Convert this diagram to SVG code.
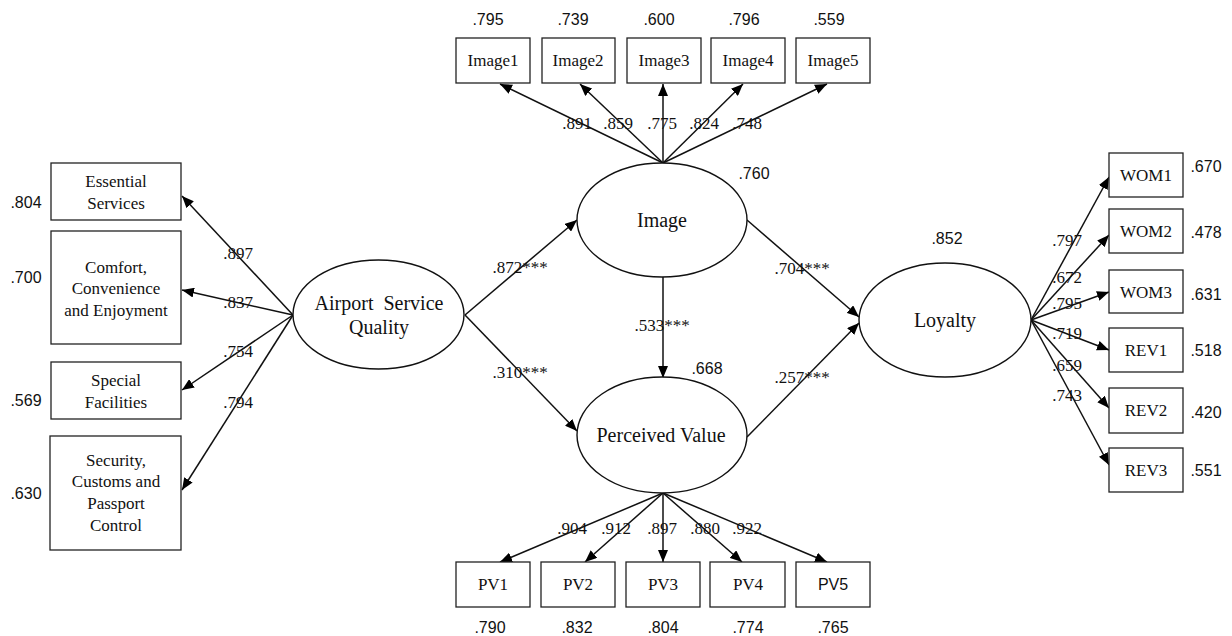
<svg xmlns="http://www.w3.org/2000/svg" width="1232" height="636" viewBox="0 0 1232 636">
<defs>
<marker id="ah" viewBox="0 0 12 10" refX="12" refY="5" markerWidth="12" markerHeight="10" markerUnits="userSpaceOnUse" orient="auto">
<path d="M0,0 L12,5 L0,10 Z" fill="#000"/>
</marker>
</defs>
<style>
.box{fill:#fff;stroke:#222;stroke-width:1.3}
.ell{fill:#fff;stroke:#111;stroke-width:1.4}
.t{font-family:"Liberation Serif","Times New Roman",serif;font-size:17px;fill:#111;text-anchor:middle;dominant-baseline:central}
.tl{font-family:"Liberation Serif","Times New Roman",serif;font-size:20px;fill:#111;text-anchor:middle;dominant-baseline:central}
.v{font-family:"Liberation Sans",Arial,sans-serif;font-size:16px;fill:#111;text-anchor:middle;dominant-baseline:central}
.w{font-family:"Liberation Serif","Times New Roman",serif;font-size:17px;fill:#111;text-anchor:middle;dominant-baseline:central}
.c line{stroke:#111;stroke-width:1.5;marker-end:url(#ah)}
</style>
<rect width="1232" height="636" fill="#fff"/>

<g class="c" id="connectors">
<line x1="293" y1="315" x2="182" y2="196"/>
<line x1="293" y1="315" x2="182" y2="290"/>
<line x1="293" y1="315" x2="182" y2="390"/>
<line x1="293" y1="315" x2="182" y2="490"/>
<line x1="663" y1="163" x2="500" y2="84"/>
<line x1="663" y1="163" x2="580" y2="84"/>
<line x1="663" y1="163" x2="663" y2="84"/>
<line x1="663" y1="163" x2="743" y2="84"/>
<line x1="663" y1="163" x2="827" y2="84"/>
<line x1="465" y1="315" x2="577" y2="220"/>
<line x1="465" y1="315" x2="577" y2="431"/>
<line x1="663" y1="277" x2="663" y2="378"/>
<line x1="747" y1="220" x2="859" y2="317"/>
<line x1="747" y1="437" x2="859" y2="323"/>
<line x1="663" y1="493" x2="500" y2="562"/>
<line x1="663" y1="493" x2="585" y2="562"/>
<line x1="663" y1="493" x2="663" y2="562"/>
<line x1="663" y1="493" x2="742" y2="562"/>
<line x1="663" y1="493" x2="827" y2="562"/>
<line x1="1031" y1="320" x2="1109" y2="177"/>
<line x1="1031" y1="320" x2="1109" y2="235"/>
<line x1="1031" y1="320" x2="1109" y2="292"/>
<line x1="1031" y1="320" x2="1109" y2="350"/>
<line x1="1031" y1="320" x2="1109" y2="408"/>
<line x1="1031" y1="320" x2="1109" y2="465"/>
</g>

<g id="asq">
<ellipse class="ell" cx="378.5" cy="314.5" rx="85.5" ry="54.5"/>
<text class="tl" x="379" y="303">Airport&#160; Service</text>
<text class="tl" x="379" y="327">Quality</text>
</g>
<g id="image">
<ellipse class="ell" cx="662" cy="220" rx="85" ry="57"/>
<text class="tl" x="662" y="220">Image</text>
<text class="v" x="754" y="173">.760</text>
</g>
<g id="pv">
<ellipse class="ell" cx="662" cy="435" rx="85" ry="58"/>
<text class="tl" x="661" y="435">Perceived Value</text>
<text class="v" x="707" y="368">.668</text>
</g>
<g id="loyalty">
<ellipse class="ell" cx="945" cy="320" rx="86" ry="57"/>
<text class="tl" x="945" y="320">Loyalty</text>
<text class="v" x="947" y="238">.852</text>
</g>

<g id="essential">
<rect class="box" x="51" y="163" width="130" height="57"/>
<text class="t" x="116" y="181">Essential</text>
<text class="t" x="116" y="203">Services</text>
<text class="v" x="26" y="202">.804</text>
</g>
<g id="comfort">
<rect class="box" x="51" y="231" width="130" height="113"/>
<text class="t" x="116" y="267">Comfort,</text>
<text class="t" x="116" y="288">Convenience</text>
<text class="t" x="116" y="310">and Enjoyment</text>
<text class="v" x="26" y="277">.700</text>
</g>
<g id="special">
<rect class="box" x="51" y="362" width="130" height="57"/>
<text class="t" x="116" y="380">Special</text>
<text class="t" x="116" y="402">Facilities</text>
<text class="v" x="26" y="400">.569</text>
</g>
<g id="security">
<rect class="box" x="50" y="436" width="131" height="114"/>
<text class="t" x="116" y="460">Security,</text>
<text class="t" x="116" y="481">Customs and</text>
<text class="t" x="116" y="503">Passport</text>
<text class="t" x="116" y="525">Control</text>
<text class="v" x="26" y="493">.630</text>
</g>

<g id="image1"><rect class="box" x="456" y="38" width="74" height="45"/><text class="t" x="493" y="60">Image1</text><text class="v" x="488" y="19">.795</text></g>
<g id="image2"><rect class="box" x="542" y="38" width="73" height="45"/><text class="t" x="578" y="60">Image2</text><text class="v" x="573" y="19">.739</text></g>
<g id="image3"><rect class="box" x="627" y="38" width="74" height="45"/><text class="t" x="664" y="60">Image3</text><text class="v" x="659" y="19">.600</text></g>
<g id="image4"><rect class="box" x="711" y="38" width="74" height="45"/><text class="t" x="748" y="60">Image4</text><text class="v" x="744" y="19">.796</text></g>
<g id="image5"><rect class="box" x="796" y="38" width="74" height="45"/><text class="t" x="833" y="60">Image5</text><text class="v" x="829" y="19">.559</text></g>

<g id="pv1"><rect class="box" x="456" y="562" width="74" height="45"/><text class="t" x="493" y="584">PV1</text><text class="v" x="490" y="627">.790</text></g>
<g id="pv2"><rect class="box" x="541" y="562" width="74" height="45"/><text class="t" x="578" y="584">PV2</text><text class="v" x="577" y="627">.832</text></g>
<g id="pv3"><rect class="box" x="626" y="562" width="74" height="45"/><text class="t" x="663" y="584">PV3</text><text class="v" x="663" y="627">.804</text></g>
<g id="pv4"><rect class="box" x="710" y="562" width="75" height="45"/><text class="t" x="748" y="584">PV4</text><text class="v" x="748" y="627">.774</text></g>
<g id="pv5"><rect class="box" x="796" y="562" width="74" height="45"/><text class="v" x="833" y="584">PV5</text><text class="v" x="833" y="627">.765</text></g>

<g id="wom1"><rect class="box" x="1109" y="153" width="74" height="44"/><text class="t" x="1146" y="175">WOM1</text><text class="v" x="1206" y="166">.670</text></g>
<g id="wom2"><rect class="box" x="1109" y="209" width="74" height="44"/><text class="t" x="1146" y="231">WOM2</text><text class="v" x="1206" y="232">.478</text></g>
<g id="wom3"><rect class="box" x="1109" y="270" width="74" height="43"/><text class="t" x="1146" y="292">WOM3</text><text class="v" x="1206" y="294">.631</text></g>
<g id="rev1"><rect class="box" x="1109" y="328" width="74" height="44"/><text class="t" x="1146" y="350">REV1</text><text class="v" x="1206" y="350">.518</text></g>
<g id="rev2"><rect class="box" x="1109" y="388" width="74" height="45"/><text class="t" x="1146" y="410">REV2</text><text class="v" x="1206" y="412">.420</text></g>
<g id="rev3"><rect class="box" x="1109" y="448" width="74" height="44"/><text class="t" x="1146" y="470">REV3</text><text class="v" x="1206" y="470">.551</text></g>

<g id="labels">
<text class="w" x="238" y="253">.897</text>
<text class="w" x="238" y="302">.837</text>
<text class="w" x="238" y="351">.754</text>
<text class="w" x="238" y="402">.794</text>
<text class="w" x="577" y="123">.891</text>
<text class="w" x="618" y="123">.859</text>
<text class="w" x="662" y="123">.775</text>
<text class="w" x="704" y="123">.824</text>
<text class="w" x="747" y="123">.748</text>
<text class="w" x="520" y="267">.872***</text>
<text class="w" x="520" y="372">.310***</text>
<text class="w" x="662" y="325">.533***</text>
<text class="w" x="802" y="268">.704***</text>
<text class="w" x="802" y="377">.257***</text>
<text class="w" x="572" y="528">.904</text>
<text class="w" x="616" y="528">.912</text>
<text class="w" x="662" y="528">.897</text>
<text class="w" x="705" y="528">.880</text>
<text class="w" x="747" y="528">.922</text>
<text class="w" x="1067" y="240">.797</text>
<text class="w" x="1067" y="277">.672</text>
<text class="w" x="1067" y="303">.795</text>
<text class="w" x="1067" y="333">.719</text>
<text class="w" x="1067" y="365">.659</text>
<text class="w" x="1067" y="395">.743</text>
</g>
</svg>
